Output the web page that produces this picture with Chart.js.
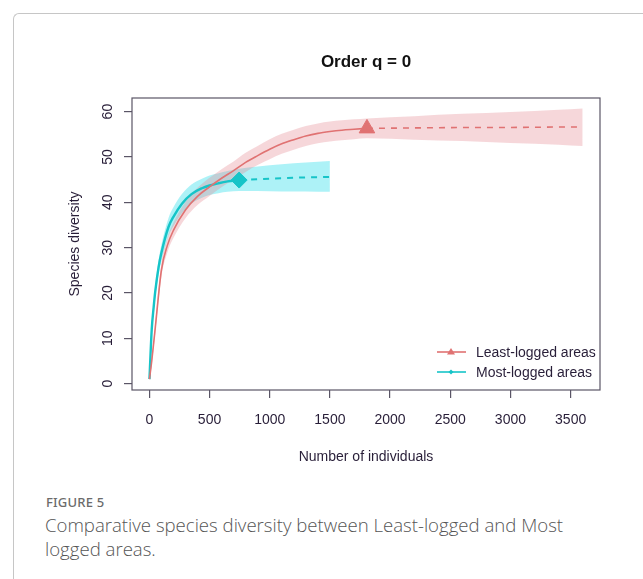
<!DOCTYPE html>
<html>
<head>
<meta charset="utf-8">
<script src="https://cdn.jsdelivr.net/npm/chart.js@4.4.0/dist/chart.umd.min.js"></script>
<style>
body { margin:0; background:#fff; width:643px; height:579px; overflow:hidden; position:relative; }
#frame { position:absolute; left:13px; top:13px; width:700px; height:700px; border-left:1.5px solid #c6c6c6; border-top:1.5px solid #c6c6c6; border-top-left-radius:6px; }
#wrap { position:absolute; left:0; top:0; width:643px; height:480px; }
#fig { position:absolute; left:46px; top:493px; font:500 13px 'Noto Sans', sans-serif; color:#6b6b6b; letter-spacing:0.2px; }
#cap { position:absolute; left:45px; top:513px; width:540px; font:300 18.6px/24px 'Open Sans', sans-serif; color:#555; }
</style>
</head>
<body>
<div id="frame"></div>
<div id="wrap"><canvas id="g1" width="643" height="480"></canvas></div>
<div id="fig">FIGURE 5</div>
<div id="cap">Comparative species diversity between Least-logged and Most logged areas.</div>
<script>
var xTicks = [0, 500, 1000, 1500, 2000, 2500, 3000, 3500];
var yTicks = [0, 10, 20, 30, 40, 50, 60];
var seriesNames = ["Least-logged areas", "Most-logged areas"];

// least-logged: rarefaction (solid) and extrapolation (dashed)
var leastX = [1, 20, 50, 100, 150, 200, 300, 400, 500, 600, 700, 800, 900, 1000, 1100, 1200, 1300, 1400, 1500, 1600, 1700, 1808];
var leastY = [1, 5, 12.5, 25, 30.5, 33.8, 38.3, 41.3, 43.4, 45.3, 47.0, 48.8, 50.3, 51.7, 52.9, 53.8, 54.6, 55.2, 55.6, 55.9, 56.1, 56.3];
var leastExtX = [1808, 2200, 2600, 3000, 3400, 3600];
var leastExtY = [56.3, 56.4, 56.5, 56.5, 56.6, 56.6];
var leastBandX = [1, 20, 50, 100, 150, 200, 300, 400, 500, 600, 700, 800, 900, 1000, 1100, 1200, 1300, 1400, 1500, 1600, 1700, 1808, 2200, 2600, 3000, 3400, 3600];
var leastLow = [0.7, 4.2, 11.3, 23.5, 28.9, 32.1, 36.5, 39.4, 41.4, 43.3, 45.0, 46.7, 48.2, 49.5, 50.7, 51.6, 52.4, 53.0, 53.4, 53.7, 53.9, 54.1, 53.8, 53.5, 53.1, 52.7, 52.4];
var leastHigh = [1.3, 5.8, 13.7, 26.5, 32.1, 35.5, 40.1, 43.2, 45.4, 47.3, 49.0, 50.9, 52.4, 53.9, 55.1, 56.0, 56.8, 57.4, 57.8, 58.1, 58.3, 58.5, 59.0, 59.5, 59.9, 60.4, 60.7];

// most-logged
var mostX = [1, 20, 36, 50, 77, 100, 160, 200, 271, 350, 437, 500, 575, 650, 746];
var mostY = [1, 12, 16.9, 20.5, 25.7, 28.8, 34.6, 36.8, 39.7, 41.8, 43.1, 43.7, 44.2, 44.6, 44.9];
var mostExtX = [746, 900, 1100, 1300, 1500];
var mostExtY = [44.9, 45.1, 45.3, 45.5, 45.6];
var mostBandX = [1, 20, 36, 50, 77, 100, 160, 200, 271, 350, 437, 500, 575, 650, 746, 900, 1100, 1300, 1500];
var mostLow = [0.7, 11.0, 15.7, 19.1, 24.1, 27.0, 32.6, 34.7, 37.6, 39.7, 41.0, 41.6, 42.0, 42.3, 42.5, 42.5, 42.4, 42.4, 42.3];
var mostHigh = [1.3, 13.0, 18.1, 21.9, 27.3, 30.6, 36.6, 38.9, 41.8, 43.9, 45.2, 45.9, 46.4, 46.9, 47.4, 47.9, 48.4, 48.8, 49.1];

var red = "#e07272";
var cyan = "#16c4c8";
var ink = "#281e38";

function pts(xs, ys) {
  return xs.map(function (x, i) { return { x: x, y: ys[i] }; });
}
function lastPt(xs, ys) {
  return [{ x: xs[xs.length - 1], y: ys[ys.length - 1] }];
}

var rPlugin = {
  id: 'rstyle',
  afterDraw: function (chart) {
    var c = chart.ctx, a = chart.chartArea, ys = chart.scales.y;
    c.save();
    // box
    c.strokeStyle = "#5a5566";
    c.lineWidth = 1.2;
    c.strokeRect(a.left, a.top, a.right - a.left, a.bottom - a.top);
    // title
    c.fillStyle = "#111";
    c.font = "bold 17px 'Liberation Sans', Arial, sans-serif";
    c.textAlign = "center";
    c.textBaseline = "middle";
    c.fillText("Order q = 0", (a.left + a.right) / 2, 62);
    // y tick labels, parallel to the axis
    c.fillStyle = ink;
    c.font = "14px 'Liberation Sans', Arial, sans-serif";
    yTicks.forEach(function (v) {
      c.save();
      c.translate(108, ys.getPixelForValue(v));
      c.rotate(-Math.PI / 2);
      c.fillText(String(v), 0, 0);
      c.restore();
    });
    // legend
    var rows = [[seriesNames[0], red, 'tri', 352], [seriesNames[1], cyan, 'dia', 372]];
    rows.forEach(function (r) {
      c.strokeStyle = r[1];
      c.fillStyle = r[1];
      c.lineWidth = 1.6;
      c.beginPath();
      c.moveTo(437, r[3]);
      c.lineTo(466, r[3]);
      c.stroke();
      c.beginPath();
      if (r[2] === 'tri') {
        c.moveTo(451, r[3] - 4);
        c.lineTo(455, r[3] + 2.5);
        c.lineTo(447, r[3] + 2.5);
      } else {
        c.moveTo(451, r[3] - 2.5);
        c.lineTo(453.5, r[3]);
        c.lineTo(451, r[3] + 2.5);
        c.lineTo(448.5, r[3]);
      }
      c.closePath();
      c.fill();
      c.fillStyle = ink;
      c.textAlign = "left";
      c.fillText(r[0], 476, r[3] + 1);
    });
    c.restore();
  }
};

var ctx = document.getElementById("g1").getContext('2d');
var myChart = new Chart(ctx, {
  type: 'line',
  data: {
    datasets: [
      { label: seriesNames[0], data: pts(leastX, leastY), borderColor: red, borderWidth: 1.6, pointRadius: 0, cubicInterpolationMode: 'monotone', fill: false },
      { label: seriesNames[0] + ' extrapolated', data: pts(leastExtX, leastExtY), borderColor: red, borderWidth: 1.6, borderDash: [6, 6], pointRadius: 0, fill: false },
      { label: seriesNames[0] + ' observed', data: lastPt(leastX, leastY), showLine: false, pointStyle: 'triangle', pointRadius: 9, backgroundColor: red, borderColor: red },
      { label: seriesNames[1], data: pts(mostX, mostY), borderColor: cyan, borderWidth: 2.4, pointRadius: 0, cubicInterpolationMode: 'monotone', fill: false },
      { label: seriesNames[1] + ' extrapolated', data: pts(mostExtX, mostExtY), borderColor: cyan, borderWidth: 2, borderDash: [6, 6], pointRadius: 0, fill: false },
      { label: seriesNames[1] + ' observed', data: lastPt(mostX, mostY), showLine: false, pointStyle: 'rectRot', pointRadius: 8, backgroundColor: cyan, borderColor: cyan },
      { label: 'least upper', data: pts(leastBandX, leastHigh), borderWidth: 0, pointRadius: 0, cubicInterpolationMode: 'monotone', fill: '+1', backgroundColor: 'rgba(228, 140, 150, 0.35)' },
      { label: 'least lower', data: pts(leastBandX, leastLow), borderWidth: 0, pointRadius: 0, cubicInterpolationMode: 'monotone', fill: false },
      { label: 'most upper', data: pts(mostBandX, mostHigh), borderWidth: 0, pointRadius: 0, cubicInterpolationMode: 'monotone', fill: '+1', backgroundColor: 'rgba(40, 222, 235, 0.38)' },
      { label: 'most lower', data: pts(mostBandX, mostLow), borderWidth: 0, pointRadius: 0, cubicInterpolationMode: 'monotone', fill: false }
    ]
  },
  options: {
    responsive: false,
    animation: false,
    layout: { padding: { top: 98, right: 43, left: 0, bottom: 0 } },
    plugins: { legend: { display: false }, tooltip: { enabled: false }, title: { display: false } },
    scales: {
      x: {
        type: 'linear', min: -144, max: 3744,
        afterBuildTicks: function (s) { s.ticks = xTicks.map(function (v) { return { value: v }; }); },
        afterFit: function (s) { s.height = 90; },
        grid: { drawOnChartArea: false, drawTicks: true, tickLength: 8, color: '#5a5566', lineWidth: 1.2 },
        border: { display: false },
        ticks: { color: ink, font: { family: "'Liberation Sans', Arial, sans-serif", size: 14 }, padding: 14, maxRotation: 0,
          callback: function (v) { return String(v); } },
        title: { display: true, text: 'Number of individuals', color: ink, font: { family: "'Liberation Sans', Arial, sans-serif", size: 14 }, padding: { top: 0, bottom: 14 } }
      },
      y: {
        type: 'linear', min: -1.4, max: 63,
        afterBuildTicks: function (s) { s.ticks = yTicks.map(function (v) { return { value: v }; }); },
        afterFit: function (s) { s.width = 132; },
        grid: { drawOnChartArea: false, drawTicks: true, tickLength: 8, color: '#5a5566', lineWidth: 1.2 },
        border: { display: false },
        ticks: { display: false },
        title: { display: true, text: 'Species diversity', color: ink, font: { family: "'Liberation Sans', Arial, sans-serif", size: 14 }, padding: { top: 67, bottom: 0 } }
      }
    }
  },
  plugins: [rPlugin]
});
</script>
</body>
</html>
